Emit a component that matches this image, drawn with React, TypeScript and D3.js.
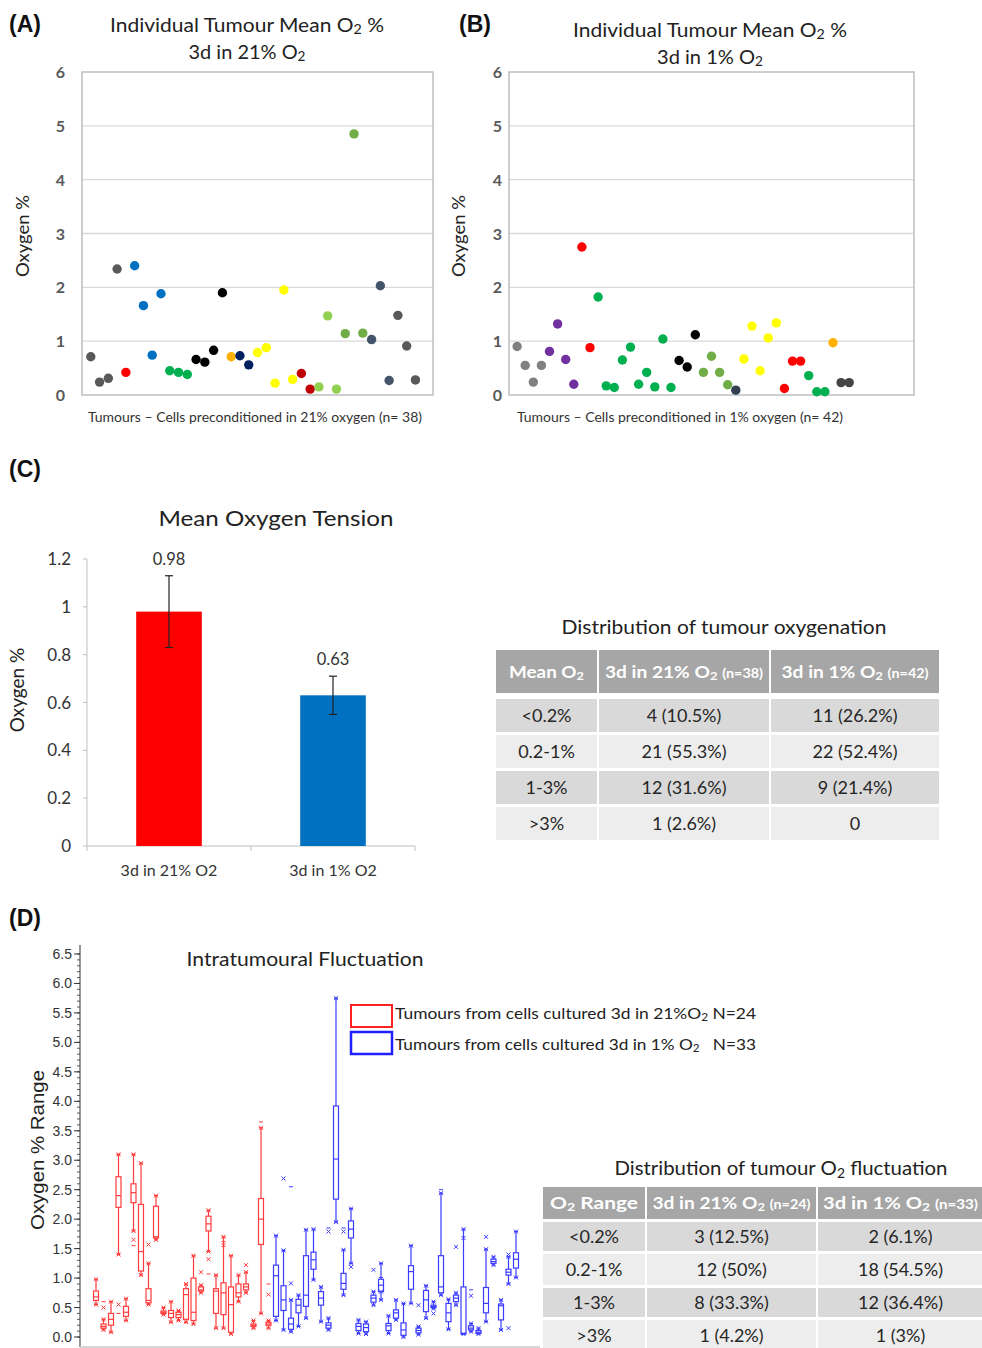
import React from "react";
import * as d3 from "d3";

// ---------- data ----------
// (A) tumours from cells preconditioned in 21% O2
const meanO2A = [0.71, 0.24, 0.31, 2.34, 0.42, 2.4, 1.66, 0.74, 1.88, 0.45, 0.42, 0.38, 0.66, 0.61, 0.83, 1.9, 0.71, 0.73, 0.56, 0.79, 0.88, 0.22, 1.95, 0.29, 0.4, 0.11, 0.15, 1.47, 0.11, 1.14, 4.85, 1.15, 1.03, 2.03, 0.27, 1.48, 0.91, 0.28];
const groupA = ["gray", "gray", "gray", "gray", "red", "blue", "blue", "blue", "blue", "green", "green", "green", "black", "black", "black", "black", "orange", "navy", "navy", "yellow", "yellow", "yellow", "yellow", "yellow", "dred", "dred", "lgreen", "lgreen", "lgreen", "olive", "olive", "olive", "slate", "slate", "slate", "gray", "gray", "gray"];
// (B) tumours from cells preconditioned in 1% O2
const meanO2B = [0.9, 0.55, 0.24, 0.55, 0.81, 1.32, 0.66, 0.2, 2.75, 0.88, 1.82, 0.17, 0.14, 0.65, 0.89, 0.2, 0.42, 0.15, 1.04, 0.14, 0.64, 0.52, 1.12, 0.42, 0.72, 0.42, 0.19, 0.09, 0.67, 1.28, 0.45, 1.06, 1.34, 0.12, 0.63, 0.63, 0.36, 0.06, 0.06, 0.97, 0.23, 0.23];
const groupB = ["lgray", "lgray", "lgray", "lgray", "purple", "purple", "purple", "purple", "red", "red", "green", "green", "green", "green", "green", "green", "green", "green", "green", "green", "black", "black", "black", "olive", "olive", "olive", "olive", "dnavy", "yellow", "yellow", "yellow", "yellow", "yellow", "red", "red", "red", "green", "green", "green", "orange", "dgray", "dgray"];
const scatterTicks = [0, 1, 2, 3, 4, 5, 6];

// (C) mean oxygen tension
const barCats = ["3d in 21% O2", "3d in 1% O2"];
const barMeans = [0.98, 0.63];
const barLow = [0.83, 0.55];
const barHigh = [1.13, 0.71];
const barTicks = [0, 0.2, 0.4, 0.6, 0.8, 1, 1.2];

const rangeRows = ["<0.2%", "0.2-1%", "1-3%", ">3%"];
const meanTab21 = ["4 (10.5%)", "21 (55.3%)", "12 (31.6%)", "1 (2.6%)"];
const meanTab1 = ["11 (26.2%)", "22 (52.4%)", "9 (21.4%)", "0"];

// (D) intratumoural fluctuation: [low whisker, q1, median, q3, high whisker]
const boxes21 = [
  [0.55, 0.62, 0.68, 0.78, 0.98], [0.12, 0.15, 0.18, 0.22, 0.3], [0.08, 0.2, 0.3, 0.4, 0.6],
  [1.4, 2.2, 2.4, 2.72, 3.1], [0.28, 0.35, 0.42, 0.52, 0.65], [1.8, 2.28, 2.45, 2.6, 3.1],
  [1.05, 1.12, 1.45, 2.25, 2.95], [0.55, 0.58, 0.62, 0.82, 1.25], [1.65, 1.68, 1.7, 2.22, 2.4],
  [0.38, 0.4, 0.42, 0.44, 0.5], [0.25, 0.33, 0.4, 0.45, 0.6], [0.28, 0.33, 0.38, 0.42, 0.45],
  [0.25, 0.3, 0.72, 0.82, 0.9], [0.22, 0.28, 0.42, 1.0, 1.38], [0.75, 0.78, 0.8, 0.85, 0.88],
  [1.45, 1.8, 1.92, 2.05, 2.15], [0.15, 0.4, 0.78, 0.82, 1.05], [0.15, 0.38, 0.75, 0.92, 1.7],
  [0.05, 0.08, 0.55, 0.85, 1.38], [0.6, 0.68, 0.75, 0.9, 1.05], [0.75, 0.8, 0.85, 0.9, 1.1],
  [0.15, 0.18, 0.2, 0.22, 0.28], [0.4, 1.57, 2.0, 2.35, 3.55], [0.15, 0.2, 0.22, 0.25, 0.28],
];
const boxes1 = [
  [0.28, 0.35, 1.04, 1.22, 1.72], [0.12, 0.45, 0.63, 0.87, 1.47], [0.09, 0.13, 0.22, 0.32, 0.63],
  [0.18, 0.41, 0.54, 0.64, 0.71], [0.32, 0.52, 0.71, 1.38, 1.82], [0.97, 1.15, 1.31, 1.44, 1.83],
  [0.26, 0.54, 0.66, 0.77, 0.85], [0.12, 0.15, 0.2, 0.24, 0.32], [1.95, 2.34, 3.02, 3.92, 5.75],
  [0.71, 0.81, 0.91, 1.08, 1.48], [1.25, 1.68, 1.83, 1.97, 2.18], [0.06, 0.11, 0.18, 0.23, 0.29],
  [0.05, 0.09, 0.16, 0.22, 0.26], [0.54, 0.59, 0.66, 0.71, 0.77], [0.63, 0.77, 0.88, 0.98, 1.25],
  [0.06, 0.11, 0.19, 0.23, 0.36], [0.29, 0.32, 0.41, 0.46, 0.63], [0.0, 0.03, 0.12, 0.24, 0.57],
  [0.57, 0.81, 1.11, 1.21, 1.55], [0.04, 0.07, 0.11, 0.15, 0.18], [0.32, 0.43, 0.63, 0.79, 0.87],
  [0.48, 0.5, 0.52, 0.54, 0.6], [0.71, 0.75, 0.85, 1.38, 2.44], [0.13, 0.26, 0.41, 0.57, 0.64],
  [0.54, 0.6, 0.66, 0.71, 0.75], [0.05, 0.05, 0.06, 0.85, 1.83], [0.09, 0.12, 0.15, 0.19, 0.23],
  [0.05, 0.06, 0.08, 0.11, 0.15], [0.26, 0.41, 0.57, 0.84, 1.49], [1.22, 1.25, 1.28, 1.32, 1.36],
  [0.12, 0.29, 0.53, 0.56, 0.63], [0.9, 1.05, 1.1, 1.15, 1.36], [1.01, 1.17, 1.32, 1.43, 1.79],
];
// [box index, value, marker]
const extra21 = [[1, 0.5, "x"], [1, 0.6, "-"], [3, 0.55, "x"], [3, 0.4, "-"], [5, 1.65, "x"], [5, 1.55, "-"], [7, 1.57, "x"], [14, 1.1, "x"], [15, 1.32, "x"], [15, 1.07, "-"], [17, 1.56, "x"], [17, 1.62, "-"], [20, 1.22, "x"], [22, 3.65, "-"], [23, 0.72, "x"], [23, 0.9, "-"]];
const extra1 = [[1, 2.69, "x"], [2, 2.55, "-"], [2, 0.91, "x"], [7, 1.79, "x"], [7, 1.85, "-"], [9, 1.79, "x"], [9, 1.85, "-"], [10, 1.19, "x"], [13, 1.14, "x"], [14, 1.01, "-"], [14, 0.77, "x"], [19, 0.54, "x"], [21, 0.4, "x"], [22, 2.5, "-"], [24, 1.53, "x"], [25, 1.68, "x"], [26, 0.7, "x"], [26, 0.8, "-"], [28, 1.7, "x"], [31, 0.15, "x"], [31, 1.4, "x"]];
const fluctTicks = d3.range(0, 6.51, 0.5);

const fluctTab21 = ["3 (12.5%)", "12 (50%)", "8 (33.3%)", "1 (4.2%)"];
const fluctTab1 = ["2 (6.1%)", "18 (54.5%)", "12 (36.4%)", "1 (3%)"];

// ---------- styles ----------
const palette: Record<string, string> = {
  gray: "#595959", lgray: "#808080", dgray: "#454545", red: "#ff0000", blue: "#0070c0",
  green: "#00b050", black: "#000000", orange: "#ffb000", navy: "#002060", yellow: "#ffff00",
  dred: "#c00000", lgreen: "#92d050", olive: "#70ad47", slate: "#44546a", purple: "#7030a0",
  dnavy: "#333f50",
};
const FONT = "Lato, 'Open Sans', sans-serif";
const ARIAL = "'Liberation Sans', Arial, sans-serif";
const RED_BOX = "#ff3b3b";
const BLUE_BOX = "#3b3bff";

const sub2 = () => (
  <>
    <tspan>O</tspan>
    <tspan baselineShift="-18%" fontSize="68%">2</tspan>
  </>
);
const small = (t: string) => <tspan fontSize="75%">{t}</tspan>;

type ScatterProps = {
  left: number; right: number; top: number; bottom: number; xMax: number;
  values: number[]; groups: string[]; letter: string; letterX: number;
  titleX: number; titleY: number; line2: string; line2W: number;
  tickX: number; yTitleX: number; xLabel: string; xLabelX: number; xLabelW: number;
};

function Scatter(p: ScatterProps) {
  const x = d3.scaleLinear().domain([0, p.xMax]).range([p.left, p.right]);
  const y = d3.scaleLinear().domain([0, 6]).range([p.bottom, p.top]);
  return (
    <g>
      <text x={p.letterX} y={32} fontFamily={ARIAL} fontWeight="bold" fontSize={23} fill="#111">{p.letter}</text>
      <text x={p.titleX} y={p.titleY} textAnchor="middle" fontFamily={FONT} fontSize={18.5} fill="#222" textLength={274} lengthAdjust="spacingAndGlyphs">
        Individual Tumour Mean {sub2()} %
      </text>
      <text x={p.titleX} y={p.titleY + 27} textAnchor="middle" fontFamily={FONT} fontSize={18.5} fill="#222" textLength={p.line2W} lengthAdjust="spacingAndGlyphs">
        {p.line2} {sub2()}
      </text>
      {scatterTicks.slice(1, -1).map((t) => (
        <line key={t} x1={p.left} x2={p.right} y1={y(t)} y2={y(t)} stroke="#d9d9d9" strokeWidth={1.3} />
      ))}
      <rect x={p.left} y={p.top} width={p.right - p.left} height={p.bottom - p.top} fill="none" stroke="#bfbfbf" strokeWidth={1.5} />
      {scatterTicks.map((t) => (
        <text key={t} x={p.tickX} y={y(t) + 6} textAnchor="end" fontFamily={FONT} fontWeight="bold" fontSize={16} fill="#595959">{t}</text>
      ))}
      <text transform={`translate(${p.yTitleX},236) rotate(-90)`} textAnchor="middle" fontFamily={FONT} fontSize={18} fill="#222" textLength={82} lengthAdjust="spacingAndGlyphs">Oxygen %</text>
      {p.values.map((v, i) => (
        <circle key={i} cx={x(i + 1)} cy={y(v)} r={4.7} fill={palette[p.groups[i]]} />
      ))}
      <text x={p.xLabelX} y={422} textAnchor="middle" fontFamily={FONT} fontSize={13} fill="#333" textLength={p.xLabelW} lengthAdjust="spacingAndGlyphs">{p.xLabel}</text>
    </g>
  );
}

function BarChart() {
  const x = d3.scaleBand().domain(barCats).range([87, 415]).paddingInner(0.6).paddingOuter(0.3);
  const y = d3.scaleLinear().domain([0, 1.2]).range([846, 559]);
  const colors = ["#ff0000", "#0070c0"];
  return (
    <g>
      <text x={9} y={477} fontFamily={ARIAL} fontWeight="bold" fontSize={23} fill="#111">(C)</text>
      <text x={276} y={526} textAnchor="middle" fontFamily={FONT} fontSize={22} fill="#222" textLength={235} lengthAdjust="spacingAndGlyphs">Mean Oxygen Tension</text>
      <line x1={87} x2={87} y1={y(1.2)} y2={y(0)} stroke="#bfbfbf" />
      {barTicks.map((t) => (
        <g key={t}>
          <line x1={83} x2={87} y1={y(t)} y2={y(t)} stroke="#bfbfbf" />
          <text x={71} y={y(t) + 6} textAnchor="end" fontFamily={FONT} fontSize={17} fill="#333">{t}</text>
        </g>
      ))}
      <line x1={87} x2={415} y1={y(0)} y2={y(0)} stroke="#bfbfbf" />
      {[87, 251, 415].map((t) => (
        <line key={t} x1={t} x2={t} y1={y(0)} y2={y(0) + 5} stroke="#bfbfbf" />
      ))}
      {barCats.map((c, i) => {
        const cx = (x(c) as number) + x.bandwidth() / 2;
        return (
          <g key={c}>
            <rect x={x(c)} y={y(barMeans[i])} width={x.bandwidth()} height={y(0) - y(barMeans[i])} fill={colors[i]} />
            <line x1={cx} x2={cx} y1={y(barLow[i])} y2={y(barHigh[i])} stroke="#222" strokeWidth={1.2} />
            <line x1={cx - 4} x2={cx + 4} y1={y(barLow[i])} y2={y(barLow[i])} stroke="#222" strokeWidth={1.2} />
            <line x1={cx - 4} x2={cx + 4} y1={y(barHigh[i])} y2={y(barHigh[i])} stroke="#222" strokeWidth={1.2} />
            <text x={cx} y={y(barHigh[i]) - 11} textAnchor="middle" fontFamily={FONT} fontSize={16.5} fill="#333">{barMeans[i].toFixed(2)}</text>
            <text x={cx} y={876} textAnchor="middle" fontFamily={FONT} fontSize={16} fill="#333">{c}</text>
          </g>
        );
      })}
      <text transform="translate(24,690) rotate(-90)" textAnchor="middle" fontFamily={FONT} fontSize={19} fill="#222">Oxygen %</text>
    </g>
  );
}

type TableProps = {
  title: React.ReactNode; titleX: number; titleY: number; titleW: number;
  cols: number[]; headTop: number; headBottom: number; rowBounds: number[][];
  head: React.ReactNode[]; headW: number[]; c21: string[]; c1: string[];
};

function Table(p: TableProps) {
  const rowFill = ["#d9d9d9", "#ededed", "#d9d9d9", "#ededed"];
  const centers = p.cols.slice(0, -1).map((c, i) => (c + p.cols[i + 1]) / 2);
  return (
    <g>
      <text x={p.titleX} y={p.titleY} textAnchor="middle" fontFamily={FONT} fontSize={20} fill="#222" textLength={p.titleW} lengthAdjust="spacingAndGlyphs">{p.title}</text>
      {centers.map((cx, j) => (
        <g key={j}>
          <rect x={p.cols[j] + 1} y={p.headTop} width={p.cols[j + 1] - p.cols[j] - 2} height={p.headBottom - p.headTop} fill="#a6a6a6" />
          <text x={cx} y={(p.headTop + p.headBottom) / 2 + 6} textAnchor="middle" fontFamily={FONT} fontWeight="bold" fontSize={17.5} fill="#fff" textLength={p.headW[j]} lengthAdjust="spacingAndGlyphs">{p.head[j]}</text>
        </g>
      ))}
      {rangeRows.map((r, i) => {
        const [t, b] = p.rowBounds[i];
        const cells = [r, p.c21[i], p.c1[i]];
        return (
          <g key={r}>
            {cells.map((c, j) => (
              <g key={j}>
                <rect x={p.cols[j] + 1} y={t} width={p.cols[j + 1] - p.cols[j] - 2} height={b - t} fill={rowFill[i]} />
                <text x={centers[j]} y={(t + b) / 2 + 6.5} textAnchor="middle" fontFamily={FONT} fontSize={18} fill="#262626">{c}</text>
              </g>
            ))}
          </g>
        );
      })}
    </g>
  );
}

function Marker({ x, y, kind, color }: { x: number; y: number; kind: string; color: string }) {
  if (kind === "-") return <line x1={x - 2} x2={x + 2} y1={y} y2={y} stroke={color} strokeWidth={1} />;
  return <path d={`M${x - 2},${y - 2}L${x + 2},${y + 2}M${x - 2},${y + 2}L${x + 2},${y - 2}`} stroke={color} strokeWidth={1} />;
}

function BoxPlots() {
  const x = d3.scaleLinear().domain([-2, 59]).range([81, 538.5]);
  const y = d3.scaleLinear().domain([0, 6.5]).range([1337, 954]);
  const minor = d3.range(0, 6.51, 0.1);
  const all = [
    ...boxes21.map((b, i) => ({ b, pos: i, color: RED_BOX })),
    ...boxes1.map((b, i) => ({ b, pos: boxes21.length + i, color: BLUE_BOX })),
  ];
  const extras = [
    ...extra21.map((e) => ({ pos: e[0] as number, v: e[1] as number, k: e[2] as string, color: RED_BOX })),
    ...extra1.map((e) => ({ pos: boxes21.length + (e[0] as number), v: e[1] as number, k: e[2] as string, color: BLUE_BOX })),
  ];
  const w = 5;
  return (
    <g>
      <text x={9} y={926} fontFamily={ARIAL} fontWeight="bold" fontSize={23} fill="#111">(D)</text>
      <text x={305} y={966} textAnchor="middle" fontFamily={FONT} fontSize={19} fill="#222" textLength={237} lengthAdjust="spacingAndGlyphs">Intratumoural Fluctuation</text>
      <line x1={80} x2={80} y1={945} y2={1347} stroke="#333" strokeWidth={1} />
      <line x1={80} x2={540} y1={1347} y2={1347} stroke="#c8c8c8" strokeWidth={1.5} />
      {minor.map((t, i) => (
        <line key={i} x1={77} x2={80} y1={y(t)} y2={y(t)} stroke="#333" strokeWidth={0.8} />
      ))}
      {fluctTicks.map((t) => (
        <g key={t}>
          <line x1={74} x2={80} y1={y(t)} y2={y(t)} stroke="#333" strokeWidth={1} />
          <text x={72} y={y(t) + 5} textAnchor="end" fontFamily={ARIAL} fontSize={14} fill="#333">{t.toFixed(1)}</text>
        </g>
      ))}
      <text transform="translate(44,1150) rotate(-90)" textAnchor="middle" fontFamily={ARIAL} fontSize={19} fill="#222" textLength={160} lengthAdjust="spacingAndGlyphs">Oxygen % Range</text>
      {all.map(({ b, pos, color }) => {
        const cx = x(pos);
        return (
          <g key={pos} stroke={color} fill="none" strokeWidth={1.2}>
            <line x1={cx} x2={cx} y1={y(b[0])} y2={y(b[1])} />
            <line x1={cx} x2={cx} y1={y(b[3])} y2={y(b[4])} />
            <rect x={cx - w / 2} y={y(b[3])} width={w} height={Math.max(1, y(b[1]) - y(b[3]))} fill="#fff" />
            <line x1={cx - w / 2} x2={cx + w / 2} y1={y(b[2])} y2={y(b[2])} />
            <line x1={cx - 2} x2={cx + 2} y1={y(b[0])} y2={y(b[0])} />
            <line x1={cx - 2} x2={cx + 2} y1={y(b[4])} y2={y(b[4])} />
            <Marker x={cx} y={y(b[0])} kind="x" color={color} />
            <Marker x={cx} y={y(b[4])} kind="x" color={color} />
          </g>
        );
      })}
      {extras.map((e, i) => (
        <Marker key={i} x={x(e.pos)} y={y(e.v)} kind={e.k} color={e.color} />
      ))}
      <rect x={351} y={1005} width={41} height={22} fill="none" stroke="#ff2020" strokeWidth={2} />
      <rect x={351} y={1032} width={41} height={22} fill="none" stroke="#2020ff" strokeWidth={2.5} />
      <text x={395} y={1019} fontFamily={FONT} fontSize={16} fill="#222" textLength={361} lengthAdjust="spacingAndGlyphs">
        Tumours from cells cultured 3d in 21%{sub2()} N=24
      </text>
      <text x={395} y={1050} fontFamily={FONT} fontSize={16} fill="#222" textLength={361} lengthAdjust="spacingAndGlyphs">
        Tumours from cells cultured 3d in 1% {sub2()}{"\u00a0\u00a0\u00a0"}N=33
      </text>
    </g>
  );
}

export default function App() {
  return (
    <div style={{ position: "absolute", left: 0, top: 0 }}>
      <svg width={982} height={1348} style={{ display: "block", background: "#fff" }}>
        <Scatter left={82} right={433} top={72} bottom={395} xMax={40} values={meanO2A} groups={groupA}
          letter="(A)" letterX={9} titleX={247} titleY={32} line2="3d in 21%" line2W={117}
          tickX={65} yTitleX={29} xLabel="Tumours – Cells preconditioned in 21% oxygen (n= 38)" xLabelX={255} xLabelW={334} />
        <Scatter left={509} right={914} top={72} bottom={395} xMax={50} values={meanO2B} groups={groupB}
          letter="(B)" letterX={459} titleX={710} titleY={37} line2="3d in 1%" line2W={106}
          tickX={502} yTitleX={465} xLabel="Tumours – Cells preconditioned in 1% oxygen (n= 42)" xLabelX={680} xLabelW={326} />
        <BarChart />
        <Table
          title="Distribution of tumour oxygenation" titleX={724} titleY={634} titleW={325}
          cols={[495, 598, 770, 940]} headTop={650} headBottom={693}
          rowBounds={[[699, 732], [735, 768], [771, 804], [807, 840]]}
          head={[
            <>Mean {sub2()}</>,
            <>3d in 21% {sub2()} {small("(n=38)")}</>,
            <>3d in 1% {sub2()} {small("(n=42)")}</>,
          ]}
          headW={[75, 158, 147]} c21={meanTab21} c1={meanTab1}
        />
        <BoxPlots />
        <Table
          title={<>Distribution of tumour {sub2()} fluctuation</>} titleX={781} titleY={1175} titleW={333}
          cols={[542, 646, 817, 984]} headTop={1187} headBottom={1219}
          rowBounds={[[1222, 1251], [1254, 1285], [1288, 1317], [1320, 1350]]}
          head={[
            <>{sub2()} Range</>,
            <>3d in 21% {sub2()} {small("(n=24)")}</>,
            <>3d in 1% {sub2()} {small("(n=33)")}</>,
          ]}
          headW={[88, 158, 155]} c21={fluctTab21} c1={fluctTab1}
        />
      </svg>
    </div>
  );
}
